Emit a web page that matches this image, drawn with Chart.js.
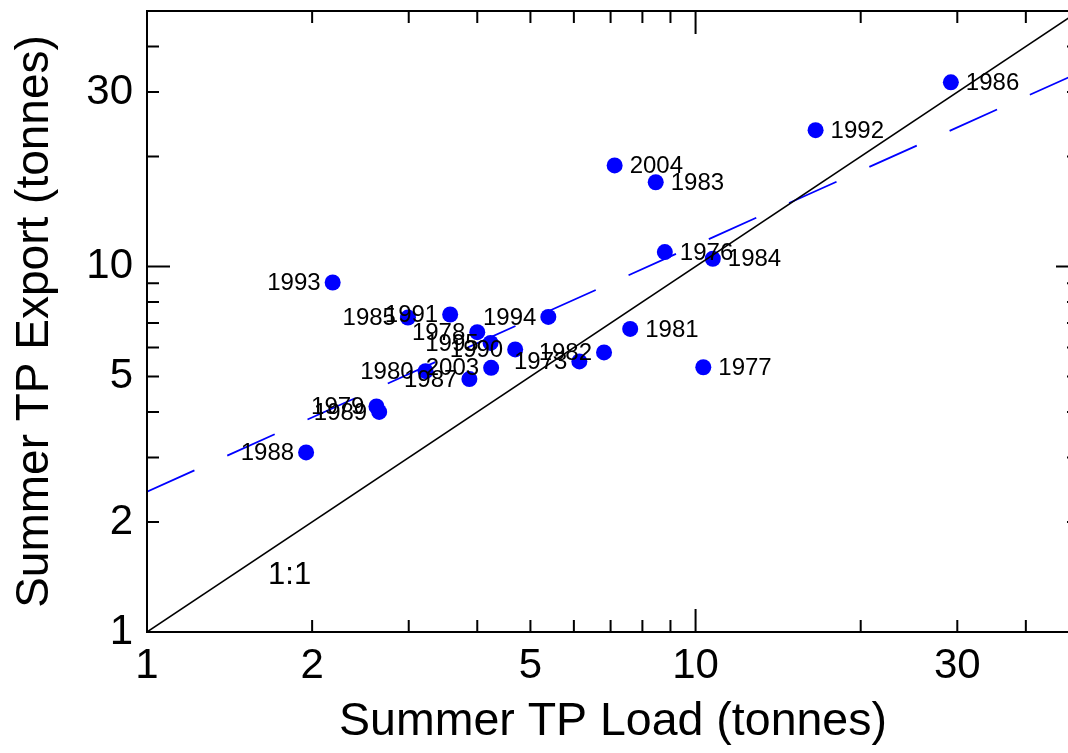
<!DOCTYPE html>
<html>
<head>
<meta charset="utf-8">
<script src="https://cdn.jsdelivr.net/npm/chart.js@4.4.1/dist/chart.umd.min.js"></script>
<style>
  html, body { margin: 0; padding: 0; background: #fff; overflow: hidden; }
  #wrap { width: 1087px; height: 753px; }
</style>
</head>
<body>
<div id="wrap"><canvas id="tp" width="1087" height="753"></canvas></div>
<script>
// summer total phosphorus, one point per year
const years = ['1986', '1992', '2004', '1983', '1976', '1984', '1993', '1985', '1991', '1994', '1978', '1995',
    '1990', '2003', '1987', '1980', '1973', '1982', '1981', '1977', '1979', '1989', '1988'];
const loadTonnes = [29.2, 16.55, 7.12, 8.46, 8.79, 10.75, 2.18, 2.99, 3.57, 5.39, 4.0, 4.23,
    4.69, 4.24, 3.87, 3.22, 6.14, 6.81, 7.60, 10.33, 2.62, 2.65, 1.95];
const exportTonnes = [31.9, 23.6, 18.9, 17.0, 10.95, 10.5, 9.04, 7.25, 7.39, 7.28, 6.61, 6.18,
    5.93, 5.28, 4.92, 5.17, 5.50, 5.82, 6.75, 5.30, 4.14, 4.00, 3.10];
// side of the dot the year goes on
const labelSide = ['r', 'r', 'r', 'r', 'r', 'r', 'l', 'l', 'l', 'l', 'l', 'l',
    'l', 'l', 'l', 'l', 'l', 'l', 'r', 'r', 'l', 'l', 'l'];

// fitted trend line end points
const fitLoad = [1, 50];
const fitExport = [2.42, 33.9];

// 1:1 reference line
const unityLoad = [1, 50];
const unityExport = [1, 50];

const tickLabels = [1, 2, 5, 10, 30];
const tickMarks = [1, 2, 3, 4, 5, 6, 7, 8, 9, 10, 20, 30, 40, 50];

const FONT = "'Liberation Sans', Arial, sans-serif";

const pts = loadTonnes.map((x, i) => ({ x: x, y: exportTonnes[i] }));
const fit = fitLoad.map((x, i) => ({ x: x, y: fitExport[i] }));
const unity = unityLoad.map((x, i) => ({ x: x, y: unityExport[i] }));

// inward tick marks on all four sides, plus the box
const frame = {
    id: 'frame',
    afterDraw(chart) {
        const { ctx, chartArea: a, scales } = chart;
        ctx.save();
        ctx.strokeStyle = '#000';
        ctx.lineWidth = 2;
        ctx.strokeRect(a.left, a.top, a.right - a.left, a.bottom - a.top);
        ctx.beginPath();
        tickMarks.forEach(v => {
            const len = (v === 1 || v === 10) ? 23 : 12;
            const x = scales.x.getPixelForValue(v);
            if (x > a.left && x < a.right) {
                ctx.moveTo(x, a.bottom); ctx.lineTo(x, a.bottom - len);
                ctx.moveTo(x, a.top); ctx.lineTo(x, a.top + len);
            }
            const y = scales.y.getPixelForValue(v);
            if (y > a.top && y < a.bottom) {
                ctx.moveTo(a.left, y); ctx.lineTo(a.left + len, y);
                ctx.moveTo(a.right, y); ctx.lineTo(a.right - len, y);
            }
        });
        ctx.stroke();
        ctx.restore();
    }
};

// year labels next to each dot, and the 1:1 tag
const yearLabels = {
    id: 'yearLabels',
    afterDatasetsDraw(chart) {
        const { ctx, scales } = chart;
        const meta = chart.getDatasetMeta(0);
        ctx.save();
        ctx.fillStyle = '#000';
        ctx.font = '24px ' + FONT;
        ctx.textBaseline = 'middle';
        meta.data.forEach((p, i) => {
            if (labelSide[i] === 'r') {
                ctx.textAlign = 'left';
                ctx.fillText(years[i], p.x + 15, p.y + 1);
            } else {
                ctx.textAlign = 'right';
                ctx.fillText(years[i], p.x - 12, p.y + 1);
            }
        });
        ctx.font = '31px ' + FONT;
        ctx.textAlign = 'center';
        ctx.fillText('1:1', scales.x.getPixelForValue(1.82), scales.y.getPixelForValue(1.43));
        ctx.restore();
    }
};

function logAxis(title, isX) {
    return {
        type: 'logarithmic',
        min: 1,
        max: 50,
        afterBuildTicks: s => { s.ticks = tickLabels.map(v => ({ value: v })); },
        afterFit: s => {
            if (isX) s.height = 121; else s.width = 147;
            // tick labels sit well inside the box, no extra room needed
            s.paddingTop = s.paddingBottom = s.paddingLeft = s.paddingRight = 0;
        },
        grid: { display: false, drawTicks: false },
        border: { display: false },
        ticks: {
            autoSkip: false,
            maxRotation: 0,
            padding: isX ? 9 : 14,
            color: '#000',
            font: { family: FONT, size: 42 },
            callback: v => String(v)
        },
        title: {
            display: true,
            text: title,
            color: '#000',
            font: { family: FONT, size: isX ? 46.5 : 46 },
            padding: isX ? { top: 0, bottom: 3 } : { top: 8, bottom: 0 }
        }
    };
}

new Chart(document.getElementById('tp'), {
    type: 'scatter',
    data: {
        datasets: [{
            data: pts,
            backgroundColor: '#0000ff',
            borderWidth: 0,
            pointRadius: 8,
            order: 2
        }, {
            type: 'line',
            data: unity,
            borderColor: '#000',
            borderWidth: 1.5,
            pointRadius: 0,
            fill: false,
            order: 1
        }, {
            type: 'line',
            data: fit,
            borderColor: '#0000ff',
            borderWidth: 1.8,
            borderDash: [52, 36],
            pointRadius: 0,
            fill: false,
            order: 1
        }]
    },
    options: {
        responsive: false,
        animation: false,
        layout: { padding: { top: 11, right: 4, left: 0, bottom: 0 } },
        scales: {
            x: logAxis('Summer TP Load (tonnes)', true),
            y: logAxis('Summer TP Export (tonnes)', false)
        },
        plugins: {
            legend: { display: false },
            tooltip: { enabled: false }
        }
    },
    plugins: [frame, yearLabels]
});
</script>
</body>
</html>
